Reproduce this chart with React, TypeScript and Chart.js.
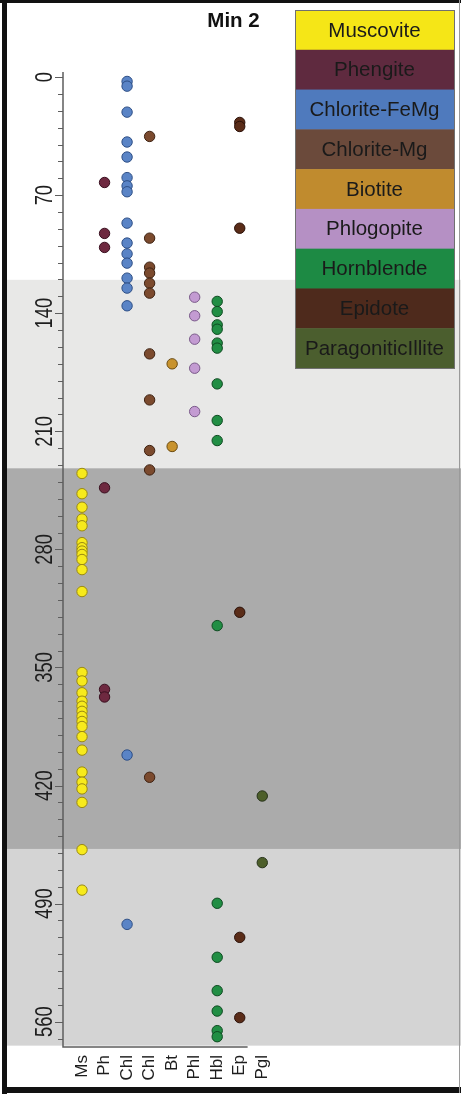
import React, { useEffect, useRef } from 'react';
import { Chart, registerables } from 'chart.js';
Chart.register(...registerables);

const W = 461;
const H = 1095;

// ---- data ----
const categories = ['Ms', 'Ph', 'Chl', 'Chl', 'Bt', 'Phl', 'Hbl', 'Ep', 'Pgl'];
const seriesNames = ['Muscovite', 'Phengite', 'Chlorite-FeMg', 'Chlorite-Mg', 'Biotite', 'Phlogopite', 'Hornblende', 'Epidote', 'ParagoniticIllite'];

const muscovite = [235, 247, 255, 262, 266, 276, 279, 281, 283, 286, 292, 305, 353, 358, 365, 370, 373, 376, 379, 382, 385, 391, 399, 412, 418, 422, 430, 458, 482];
const phengite = [62.5, 92.7, 101, 243.5, 363, 367.5];
const chloriteFeMg = [2.6, 5.4, 20.8, 38.5, 47.4, 59.6, 64.5, 68, 86.6, 98.4, 104.8, 110.3, 119.2, 125.1, 135.6, 401.9, 502.3];
const chloriteMg = [35.2, 95.5, 112.7, 116.2, 122.2, 128.1, 164.1, 191.4, 221.4, 232.9, 415.1];
const biotite = [170, 219];
const phlogopite = [130.5, 141.5, 155.4, 172.6, 198.3];
const hornblende = [133, 139, 146.9, 149.5, 157.7, 160.7, 181.9, 203.6, 215.5, 325.2, 489.8, 521.8, 541.6, 553.7, 565.3, 568.9];
const epidote = [26.9, 29.3, 89.6, 317.3, 510, 557.6];
const paragoniticIllite = [426.2, 465.7];

const seriesValues = [muscovite, phengite, chloriteFeMg, chloriteMg, biotite, phlogopite, hornblende, epidote, paragoniticIllite];

const legendColors = ['#f5e617', '#5f2a3f', '#4f7abd', '#6b4a3b', '#c08b2e', '#b590c4', '#1d8a44', '#4e2a1c', '#4b5e2e'];
const dotColors = ['#f7ea1c', '#6e2940', '#5a84c6', '#7b4a2e', '#c8932e', '#c39bd2', '#218e44', '#5a2c18', '#4d5f2a'];
const dotBorders = ['#9a8a12', '#3a1020', '#2e4f86', '#3e2212', '#6a4a10', '#7a5a8a', '#0d4a20', '#2a1008', '#27331a'];

const yMajorTicks = [0, 70, 140, 210, 280, 350, 420, 490, 560];
const yMinorStep = 10;
const yMinorMax = 570;

const bandEdges = [120.2, 231.9, 457.6, 574.2];
const bandColors = ['#e8e8e7', '#ababab', '#d4d4d4'];

const title = 'Min 2';

export default function App() {
  const ref = useRef<HTMLCanvasElement>(null);

  useEffect(() => {
    const canvas = ref.current!;

    const bgPlugin = {
      id: 'bg',
      beforeDraw(chart: any) {
        const ctx = chart.ctx;
        const y = chart.scales.y;
        ctx.save();
        ctx.fillStyle = '#ffffff';
        ctx.fillRect(0, 0, W, H);
        for (let i = 0; i < bandColors.length; i++) {
          const y0 = y.getPixelForValue(bandEdges[i]);
          const y1 = y.getPixelForValue(bandEdges[i + 1]);
          ctx.fillStyle = bandColors[i];
          ctx.fillRect(5, y0, W - 5, y1 - y0);
        }
        // axes
        const area = chart.chartArea;
        const x = chart.scales.x;
        ctx.strokeStyle = '#5e5e5e';
        ctx.lineWidth = 1.5;
        ctx.beginPath();
        ctx.moveTo(area.left, area.top);
        ctx.lineTo(area.left, area.bottom);
        ctx.lineTo(x.getPixelForValue(7.35), area.bottom);
        ctx.stroke();
        ctx.lineWidth = 1;
        for (let v = 0; v <= yMinorMax; v += yMinorStep) {
          const py = Math.round(y.getPixelForValue(v)) + 0.5;
          const major = yMajorTicks.includes(v);
          ctx.beginPath();
          ctx.moveTo(area.left - (major ? 8 : 5), py);
          ctx.lineTo(area.left, py);
          ctx.stroke();
        }
        // y labels
        ctx.fillStyle = '#1e1e1e';
        ctx.font = '23px "Liberation Sans", Arial, sans-serif';
        ctx.textAlign = 'center';
        ctx.textBaseline = 'alphabetic';
        for (const v of yMajorTicks) {
          const py = y.getPixelForValue(v);
          ctx.save();
          ctx.translate(52, py);
          ctx.rotate(-Math.PI / 2);
          ctx.scale(0.8, 1);
          ctx.fillText(String(v), 0, 0);
          ctx.restore();
        }
        // x labels
        ctx.font = '17px "Liberation Sans", Arial, sans-serif';
        ctx.textAlign = 'right';
        ctx.textBaseline = 'middle';
        categories.forEach((c, i) => {
          const px = x.getPixelForValue(i);
          ctx.save();
          ctx.translate(px, area.bottom + 8);
          ctx.rotate(-Math.PI / 2);
          ctx.fillText(c, 0, 0);
          ctx.restore();
        });
        ctx.restore();
      },
    };

    const overlayPlugin = {
      id: 'overlay',
      afterDraw(chart: any) {
        const ctx = chart.ctx;
        ctx.save();
        // title
        ctx.fillStyle = '#111';
        ctx.font = 'bold 20.5px "Liberation Sans", Arial, sans-serif';
        ctx.textAlign = 'center';
        ctx.textBaseline = 'middle';
        ctx.fillText(title, 233.5, 21);
        // legend
        const lx = 295, ly = 10, lw = 159, rh = (368 - 10) / seriesNames.length;
        ctx.font = '20.5px "Liberation Sans", Arial, sans-serif';
        seriesNames.forEach((name, i) => {
          ctx.fillStyle = legendColors[i];
          ctx.fillRect(lx, ly + i * rh, lw, rh + 0.5);
          ctx.fillStyle = '#1a1a1a';
          ctx.fillText(name, lx + lw / 2, ly + i * rh + rh / 2 + 1);
        });
        ctx.strokeStyle = '#707070';
        ctx.lineWidth = 1;
        ctx.strokeRect(lx + 0.5, ly + 0.5, lw, 368 - ly);
        // frame
        ctx.fillStyle = '#111';
        ctx.fillRect(2, 0, 5, H - 1);
        ctx.fillRect(0, 0, W, 3);
        ctx.fillRect(2, 1087, W - 2, 6);
        ctx.fillStyle = '#9a9a9a';
        ctx.fillRect(459, 0, 1, 1093);
        ctx.restore();
      },
    };

    const datasets = seriesNames.map((name, i) => ({
      label: name,
      data: seriesValues[i].map((v) => ({ x: i, y: v })),
      backgroundColor: dotColors[i],
      borderColor: dotBorders[i],
      borderWidth: 1,
      pointRadius: 5.2,
      pointHoverRadius: 5.2,
      clip: false as any,
    }));

    const chart = new Chart(canvas, {
      type: 'scatter',
      data: { datasets },
      options: {
        animation: false,
        responsive: false,
        maintainAspectRatio: false,
        devicePixelRatio: 1,
        layout: { padding: { left: 63, top: 72, right: W - 280, bottom: H - 1047 } },
        scales: {
          x: { type: 'linear', min: -0.844, max: 8.787, display: false },
          y: { type: 'linear', reverse: true, min: -3, max: 575, display: false },
        },
        plugins: {
          legend: { display: false },
          tooltip: { enabled: false },
          title: { display: false },
        },
        events: [],
      },
      plugins: [bgPlugin, overlayPlugin],
    });
    return () => chart.destroy();
  }, []);

  return (
    <div style={{ position: 'fixed', left: 0, top: 0, width: W, height: H }}>
      <canvas ref={ref} width={W} height={H} style={{ display: 'block', width: W, height: H }} />
    </div>
  );
}
